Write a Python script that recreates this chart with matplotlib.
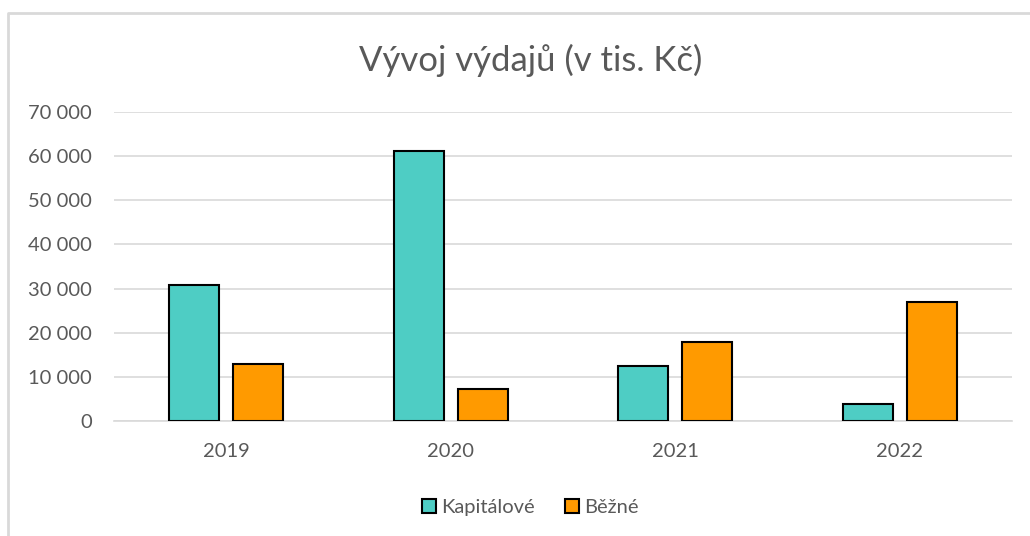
import matplotlib.pyplot as plt
import numpy as np
from matplotlib.lines import Line2D
from matplotlib.ticker import FuncFormatter

roky = ["2019", "2020", "2021", "2022"]
kapitalove = [30700, 61150, 12350, 3850]
bezne = [12800, 7200, 17800, 26950]

plt.rcParams['font.family'] = ['Lato', 'DejaVu Sans']

fig = plt.figure(figsize=(10.3, 5.36), dpi=100)
ax = fig.add_axes([0.1107, 0.2146, 0.8718, 0.5764])

# ramecek grafu (jen levy a horni okraj je videt)
fig.lines.append(Line2D([0.0073, 0.0073, 1.0], [0.0, 0.975, 0.975], transform=fig.transFigure,
                        color="#d9d9d9", linewidth=2))

x = np.arange(len(roky))
sirka = 0.223
ax.bar(x - 0.1425, kapitalove, sirka, color="#4ecdc4", edgecolor="black",
       linewidth=1.5, label="Kapitálové", zorder=3)
ax.bar(x + 0.1425, bezne, sirka, color="#ff9a00", edgecolor="black",
       linewidth=1.5, label="Běžné", zorder=3)

ax.set_xlim(-0.5, 3.5)
ax.set_ylim(0, 70000)
ax.set_yticks(range(0, 70001, 10000))
ax.yaxis.set_major_formatter(FuncFormatter(lambda v, p: f"{int(v):,}".replace(",", " ")))
ax.set_xticks(x)
ax.set_xticklabels(roky)
ax.tick_params(length=0, labelsize=14.5, colors="#595959")
ax.tick_params(axis="y", pad=16)
ax.tick_params(axis="x", pad=16)
ax.grid(axis="y", color="#d9d9d9", linewidth=1.2, zorder=0)
for s in ["top", "right", "left"]:
    ax.spines[s].set_visible(False)
ax.spines["bottom"].set_color("#d9d9d9")
ax.spines["bottom"].set_linewidth(1.2)

fig.text(0.515, 0.888, "Vývoj výdajů (v tis. Kč)", ha="center", va="center",
         fontsize=25, color="#595959")

leg = fig.legend(loc="center", bbox_to_anchor=(0.515, 0.053), ncol=2, frameon=False,
                 fontsize=14.5, handlelength=0.7, handleheight=0.7, handletextpad=0.25,
                 columnspacing=1.5)
for t in leg.get_texts():
    t.set_color("#595959")

fig.savefig("out.png", dpi=100)
